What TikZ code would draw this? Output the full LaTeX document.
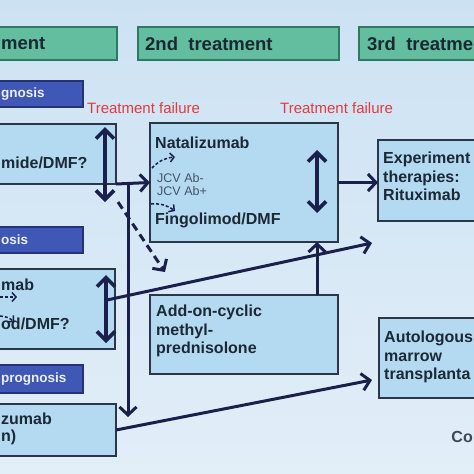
\documentclass[tikz,border=0pt]{standalone}
\usepackage{fontspec}
\setmainfont{Liberation Sans}
\usetikzlibrary{arrows.meta}

\definecolor{hdgreen}{RGB}{98,190,158}
\definecolor{hdedge}{RGB}{48,120,98}
\definecolor{pgblue}{RGB}{63,88,182}
\definecolor{pgedge}{RGB}{36,50,120}
\definecolor{lblue}{RGB}{180,218,242}
\definecolor{ledge}{RGB}{44,54,72}
\definecolor{arrcol}{RGB}{26,31,76}
\definecolor{failred}{RGB}{224,58,62}
\definecolor{txtdark}{RGB}{28,40,52}
\definecolor{bgtop}{RGB}{204,226,243}
\definecolor{bgbot}{RGB}{226,238,248}

\tikzset{
  hdbox/.style={draw=hdedge, line width=1.5pt, fill=hdgreen, inner sep=0, outer sep=0},
  pgbox/.style={draw=pgedge, line width=1.2pt, fill=pgblue, inner sep=0, outer sep=0},
  lbox/.style={draw=ledge, line width=1.2pt, fill=lblue, inner sep=0, outer sep=0},
  hdtxt/.style={inner sep=0, text=txtdark, font=\bfseries\fontsize{18.5}{22}\selectfont},
  pgtxt/.style={inner sep=0, text=white!90!pgblue, font=\bfseries\fontsize{13.5}{15}\selectfont},
  btxt/.style={inner sep=0, text=txtdark, font=\bfseries\fontsize{16}{18.5}\selectfont, align=left},
  jcvtxt/.style={inner sep=0, text=txtdark!75!lblue, font=\fontsize{12.5}{14}\selectfont},
  failtxt/.style={inner sep=0, text=failred, font=\fontsize{15}{17}\selectfont},
  conn/.style={draw=arrcol, line width=3pt, -{Straight Barb[length=8pt,width=17pt]}},
  dbl/.style={draw=arrcol, line width=3.6pt, {Straight Barb[length=9pt,width=18pt]}-{Straight Barb[length=9pt,width=18pt]}},
  dasharr/.style={draw=arrcol, line width=3pt, dash pattern=on 8pt off 5pt, -{Straight Barb[length=8pt,width=17pt]}},
  smallarr/.style={draw=arrcol, line width=1.5pt, dash pattern=on 3pt off 2pt, -{Straight Barb[length=4pt,width=9pt]}}
}

\begin{document}
\begin{tikzpicture}[x=1pt,y=-1pt]
%%%%% START %%%%%
\clip (0,0) rectangle (474,474);
\shade[top color=bgtop, middle color=white, bottom color=bgbot] (0,0) rectangle (474,474);

% treatment headers
\node[hdbox, minimum width=177, minimum height=33] (hd1) at (28.5,43.5) {};
\node[hdbox, minimum width=201, minimum height=33] (hd2) at (238.5,43.5) {};
\node[hdbox, minimum width=181, minimum height=33] (hd3) at (449.5,43.5) {};
\node[hdtxt, anchor=west] (hd1t) at (1,43.5) {ment};
\node[hdtxt, anchor=west] (hd2t) at (145,43.5) {2nd\ \ treatment};
\node[hdtxt, anchor=west] (hd3t) at (367,43.5) {3rd\ \ treatme};

% prognosis tags
\node[pgbox, minimum width=123, minimum height=26] (pg1) at (21.5,94) {};
\node[pgbox, minimum width=123, minimum height=26] (pg2) at (21.5,240) {};
\node[pgbox, minimum width=123, minimum height=28] (pg3) at (21.5,379) {};
\node[pgtxt, anchor=west] (pg1t) at (1,94) {gnosis};
\node[pgtxt, anchor=west] (pg2t) at (1,240) {osis};
\node[pgtxt, anchor=west] (pg3t) at (1,379) {prognosis};

\node[failtxt, anchor=west] (fail1) at (87,108) {Treatment failure};
\node[failtxt, anchor=west] (fail2) at (280,108) {Treatment failure};

% first treatment column
\node[lbox, minimum width=156, minimum height=60] (l1) at (38,154) {};
\node[lbox, minimum width=155, minimum height=80] (l2) at (37.5,309) {};
\node[lbox, minimum width=156, minimum height=52] (l3) at (38,430) {};
\node[btxt, anchor=west] (l1t) at (1,163) {mide/DMF?};
\node[btxt, anchor=west] (l2a) at (1,285) {mab};
\node[btxt, anchor=west] (l2b) at (1,324) {od/DMF?};
\node[btxt, anchor=west] (l3a) at (1,419) {zumab};
\node[btxt, anchor=west] (l3b) at (1,437) {n)};

% second and third treatment
\node[lbox, minimum width=188, minimum height=119] (nat) at (244,182.5) {};
\node[lbox, minimum width=188, minimum height=79] (add) at (244,334.5) {};
\node[lbox, minimum width=162, minimum height=81] (exp) at (459,180.5) {};
\node[lbox, minimum width=161, minimum height=80] (auto) at (459.5,358) {};

\node[btxt, anchor=west] (natt) at (155,143) {Natalizumab};
\node[jcvtxt, anchor=west] (jcv1) at (157,178) {JCV Ab-};
\node[jcvtxt, anchor=west] (jcv2) at (157,191) {JCV Ab+};
\node[btxt, anchor=west] (fing) at (155,220) {Fingolimod/DMF};
\node[btxt, anchor=north west] (addt) at (156,305) {Add-on-cyclic\\methyl-\\prednisolone};
\node[btxt, anchor=north west] (expt) at (383,152) {Experiment\\therapies:\\Rituximab};
\node[btxt, anchor=north west] (autot) at (384,331) {Autologous\\marrow\\transplanta};
\node[btxt, anchor=east, text=txtdark!85] (co) at (473,437) {Co};

% connectors
\coordinate (jn) at (128,183);
\coordinate (dn) at (128,417);
\coordinate (t1) at (372,243);
\coordinate (t2) at (372,380);
\coordinate (l2s) at (107,300);

\draw[dbl] (105,127) -- (105,202);
\draw[dbl] (106,275) -- (106,343);
\draw[dbl] (317,150) -- (317,213);

\draw[conn] (l1.south east) -- (nat.west);
\draw[conn] (jn) -- (dn);
\draw[conn] (nat.east) -- (nat.east -| exp.west);
\draw[conn] ([xshift=-21pt]add.north east) -- ([xshift=-21pt]nat.south east);
\draw[conn] (l2s) -- (t1);
\draw[conn] (l3.east) -- (t2);
\draw[dasharr] (118,202) -- (165,272);

\draw[smallarr] (152,168) to[bend left=20] (175,157);
\draw[smallarr] (151,204) to[bend left=20] (175,211);
\draw[smallarr] (0,297) -- (17,297);
\draw[smallarr] (0,316) to[bend left=20] (14,322);
%%%%% END %%%%%
\end{tikzpicture}
\end{document}
